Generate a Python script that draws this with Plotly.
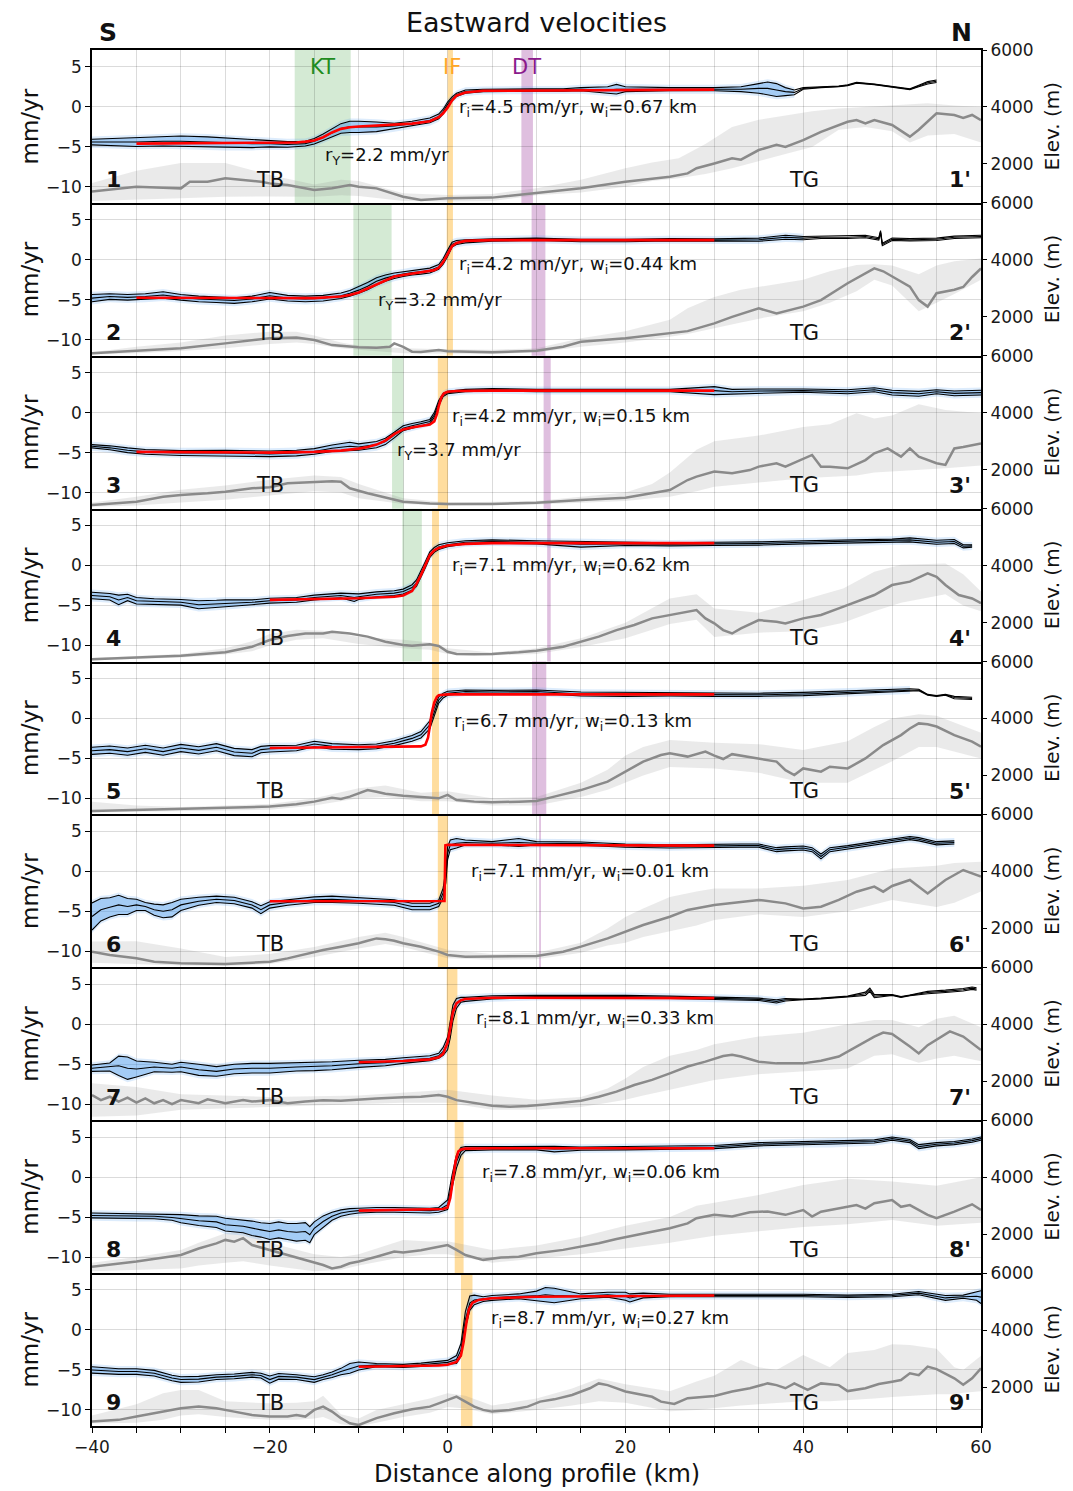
import plotly.graph_objects as go
from plotly.subplots import make_subplots

# ---------------- Panel 1 ----------------
P1_X = [-40,-37,-35,-32,-30,-27,-25,-22,-20,-18,-16,-15,-14,-13,-12,-11,-10,-8,-6,-4,-2,-1,-0.5,0,0.5,1,2,4,7,10,13,15,18,19,20,25,30,33,35,36,37,38,39,40,42,44,45,46,48,50,52,53,54,55]
P1_V = [-4.4,-4.4,-4.4,-4.3,-4.3,-4.4,-4.5,-4.6,-4.6,-4.7,-4.6,-4.3,-3.8,-3.2,-2.7,-2.5,-2.5,-2.5,-2.4,-2.1,-1.7,-1.2,-0.6,0.3,1.0,1.5,1.9,2.05,2.1,2.1,2.1,2.2,2.1,2.2,2.2,2.2,2.2,2.2,2.3,2.3,2.1,1.9,1.8,2.3,2.45,2.55,2.7,3.0,2.8,2.5,2.2,2.6,3.0,3.2]
P1_S = [0.35,0.45,0.55,0.6,0.65,0.65,0.6,0.5,0.4,0.35,0.3,0.35,0.4,0.5,0.6,0.7,0.7,0.6,0.35,0.3,0.3,0.3,0.3,0.3,0.25,0.2,0.2,0.15,0.15,0.15,0.15,0.2,0.4,0.6,0.3,0.2,0.2,0.3,0.6,0.8,0.8,0.5,0.3,0.1,0.05,0.05,0.05,0.05,0.05,0.05,0.05,0.1,0.15,0.15]
P1_RX = [-35,-20,-17,-16,-15,-14,-13,-12,-11,-10,-7,-4,-2,-1,-0.5,0,0.5,1,2,4,30]
P1_RV = [-4.6,-4.5,-4.45,-4.35,-4.2,-3.8,-3.2,-2.75,-2.55,-2.45,-2.3,-2.1,-1.8,-1.3,-0.8,-0.1,0.8,1.4,1.8,2.0,2.15]
P1_EX = [-40,-37,-35,-32,-30,-29,-27,-25,-23,-21,-20,-18,-15,-13,-11,-10,-8,-5,-3,0,5,10,15,20,25,27,28,30,32,33,35,37,38,40,42,45,46,47,48,50,52,53,55,57,58,59,60]
P1_EE = [1030,1145,1200,1170,1145,1380,1380,1500,1440,1380,1320,1260,1090,1150,1260,1200,1145,850,735,800,820,970,1145,1380,1555,1670,1850,2020,2200,2150,2490,2670,2600,2840,3130,3480,3540,3420,3540,3370,2960,3200,3780,3720,3620,3720,3540]
P1_BX = [-40,-35,-30,-25,-20,-15,-12,-10,-5,0,5,10,15,20,23,26,29,32,35,38,41,44,47,50,52,54,57,60]
P1_BL = [700,760,800,850,860,850,900,880,700,680,700,900,1000,1200,1400,1500,1650,1850,2100,2350,2600,3200,3300,3150,2750,3000,3050,2750]
P1_BH = [1330,1760,2035,2035,1610,1280,1450,1400,970,910,950,1150,1450,1850,2050,2200,2700,3300,3550,3700,3850,3950,4000,4050,4100,4130,4050,4000]

# ---------------- Panel 2 ----------------
P2_X = [-40,-38,-36,-34,-32,-30,-28,-26,-24,-22,-20,-18,-16,-14,-12,-11,-10,-9,-8,-7,-6,-5,-4,-3,-2,-1,-0.5,0,0.5,1,2,5,10,15,20,25,30,35,38,40,42,45,47,48.5,48.7,48.9,50,52,55,57,60]
P2_V = [-4.8,-4.6,-4.7,-4.6,-4.4,-4.7,-4.9,-5.0,-5.1,-4.9,-4.5,-4.8,-4.9,-4.8,-4.5,-4.2,-3.8,-3.3,-2.7,-2.3,-2.0,-1.8,-1.6,-1.5,-1.35,-0.9,-0.2,0.8,1.9,2.15,2.3,2.45,2.55,2.4,2.4,2.5,2.45,2.5,2.8,2.7,2.8,2.8,2.9,2.6,3.5,1.9,2.55,2.5,2.55,2.8,2.9]
P2_S = [0.45,0.35,0.35,0.35,0.4,0.35,0.35,0.35,0.35,0.35,0.4,0.35,0.35,0.35,0.35,0.35,0.4,0.45,0.45,0.4,0.35,0.3,0.3,0.3,0.3,0.3,0.35,0.4,0.3,0.25,0.2,0.15,0.15,0.15,0.15,0.15,0.15,0.2,0.25,0.2,0.15,0.15,0.15,0.15,0.15,0.15,0.15,0.15,0.15,0.15,0.15]
P2_RX = [-35,-20,-15,-12,-11,-10,-9,-8,-7,-6,-5,-4,-3,-2,-1.5,-1,-0.5,0,0.5,1,2,5,30]
P2_RV = [-4.75,-4.85,-4.8,-4.6,-4.4,-4.1,-3.6,-3.0,-2.5,-2.1,-1.9,-1.75,-1.6,-1.45,-1.3,-1.0,-0.3,0.7,1.7,2.1,2.35,2.45,2.45]
P2_EX = [-40,-35,-30,-25,-22,-20,-17,-15,-13,-10,-8,-6.5,-6,-5,-4,-3,-1,0,5,10,13,15,20,25,27,30,32,35,37,40,42,45,47,48,49,50,52,53,54,55,56,57,58,59,60]
P2_EE = [720,800,900,1070,1190,1250,1280,1190,1010,930,920,955,1070,950,780,770,840,790,760,810,955,1125,1250,1420,1500,1770,2000,2300,2120,2360,2590,3180,3530,3700,3600,3410,3060,2590,2360,2830,2900,2950,3050,3400,3700]
P2_BX = [-40,-35,-30,-25,-20,-17,-15,-12,-10,-5,0,5,10,15,20,25,27,30,33,36,40,43,46,48,50,53,55,57,60]
P2_BL = [680,720,800,900,1050,1100,1050,900,850,720,700,700,750,950,1100,1300,1400,1600,1800,2000,2200,2500,2900,3300,3100,2200,2500,2800,3300]
P2_BH = [760,950,1100,1350,1480,1480,1350,1100,1000,900,860,850,900,1250,1500,1900,2300,2700,2950,3100,3300,3600,3820,3850,3800,3500,3800,3950,4050]

# ---------------- Panel 3 ----------------
P3_X = [-40,-38,-36,-34,-30,-25,-20,-17,-15,-13,-11,-10,-8,-7,-6,-5,-4,-3,-2,-1.5,-1,-0.5,0,2,5,10,15,20,25,30,32,35,40,45,48,50,53,55,57,60]
P3_V = [-4.2,-4.4,-4.7,-4.9,-5.05,-5.05,-5.15,-5.05,-4.85,-4.45,-4.2,-4.3,-4.0,-3.6,-2.8,-1.95,-1.65,-1.4,-1.1,-0.3,1.2,2.2,2.5,2.75,2.85,2.75,2.75,2.75,2.75,2.75,2.6,2.7,2.75,2.6,2.85,2.5,2.35,2.6,2.4,2.5]
P3_S = [0.2,0.25,0.3,0.3,0.3,0.35,0.35,0.35,0.35,0.4,0.5,0.4,0.4,0.4,0.35,0.3,0.3,0.25,0.25,0.3,0.3,0.2,0.15,0.15,0.15,0.15,0.15,0.15,0.15,0.5,0.3,0.25,0.2,0.25,0.25,0.3,0.3,0.25,0.3,0.3]
P3_RX = [-35,-20,-15,-12,-10,-9,-8,-7,-6,-5,-4,-3,-2,-1.5,-1.2,-1,-0.7,-0.4,0,1,5,30]
P3_RV = [-4.9,-5.0,-4.9,-4.75,-4.5,-4.3,-4.0,-3.5,-2.7,-2.1,-1.85,-1.7,-1.5,-1.1,-0.2,0.8,1.9,2.4,2.6,2.7,2.75,2.75]
P3_EX = [-40,-35,-32,-30,-27,-25,-22,-20,-18,-16,-14,-13,-12,-11,-9,-7,-5,-2,0,5,10,15,20,25,27,28,30,32,34,35,37,38,40,41,42,43,45,47,48,49.5,51,52,53,55,56,57,58,60]
P3_EE = [763,880,1055,1115,1175,1230,1350,1385,1525,1550,1580,1600,1580,1350,1175,1020,880,820,800,800,845,940,1020,1290,1640,1760,1935,1880,1990,2110,2230,2110,2400,2520,2110,2110,2050,2340,2580,2750,2460,2750,2460,2230,2170,2750,2800,2920]
P3_BX = [-40,-35,-30,-25,-20,-15,-12,-10,-5,0,10,20,23,25,28,30,35,40,43,46,48,50,53,56,60]
P3_BL = [700,750,850,950,1100,1250,1200,1000,800,750,780,900,1000,1050,1250,1400,1550,1700,1750,1800,1900,1950,2000,2050,2150]
P3_BH = [850,1050,1300,1450,1650,1800,1750,1500,1000,850,900,1200,1500,1900,2700,3000,3200,3500,3600,3980,3800,3900,4300,4100,3980]

# ---------------- Panel 4 ----------------
P4_X = [-40,-38,-37,-36,-35,-33,-30,-28,-26,-25,-22,-20,-17,-15,-12,-10.5,-10,-8,-6,-5,-4,-3.5,-3,-2.5,-2,-1.5,-1,0,2,5,10,15,20,25,30,35,40,45,50,52,55,57,58,59]
P4_V = [-3.75,-3.9,-4.3,-4.0,-4.4,-4.5,-4.6,-4.9,-4.8,-4.7,-4.6,-4.4,-4.3,-4.0,-3.75,-4.0,-3.9,-3.6,-3.45,-3.25,-2.75,-2.2,-1.15,0.1,1.35,1.95,2.3,2.6,2.9,3.0,2.9,2.65,2.7,2.65,2.7,2.75,2.9,3.0,3.1,3.2,2.9,3.0,2.4,2.45]
P4_S = [0.4,0.4,0.6,0.4,0.4,0.35,0.35,0.5,0.45,0.4,0.3,0.3,0.3,0.3,0.3,0.5,0.35,0.3,0.3,0.3,0.35,0.4,0.4,0.4,0.35,0.3,0.3,0.25,0.2,0.2,0.2,0.35,0.2,0.2,0.2,0.2,0.2,0.2,0.2,0.25,0.25,0.25,0.2,0.15]
P4_RX = [-20,-10,-6,-5,-4,-3.5,-3,-2.5,-2,-1.5,-1,0,2,5,30]
P4_RV = [-4.3,-4.1,-3.9,-3.75,-3.2,-2.3,-1.2,0.1,1.3,1.9,2.2,2.5,2.7,2.8,2.8]
P4_EX = [-40,-35,-30,-25,-22,-20,-18,-16,-14,-13,-11,-9,-7,-5,-4,-2,-1,0,1,3,5,8,10,13,15,17,19,21,23,25,27,28,29,30,31,32,33,35,37,38,40,42,44,46,48,50,52,54,55,56,57.5,59,60]
P4_EE = [720,770,840,960,1155,1390,1530,1620,1620,1680,1620,1510,1330,1215,1190,1240,1180,980,900,890,900,960,1015,1155,1330,1510,1740,1920,2150,2270,2390,2445,2150,1975,1740,1620,1800,2090,2030,1970,2150,2270,2500,2740,2970,3320,3440,3730,3610,3320,2970,2850,2680]
P4_BX = [-40,-30,-25,-22,-20,-17,-14,-10,-5,-2,0,5,10,15,20,23,25,28,30,35,40,44.5,48,51,56,58,60]
P4_BL = [680,780,880,1000,1200,1400,1450,1250,1100,1050,900,850,900,1150,1450,1750,1950,2100,1500,1650,1700,2000,2400,2700,3000,2600,2400]
P4_BH = [760,900,1100,1350,1600,1750,1720,1500,1400,1300,1100,950,1100,1450,2000,2500,2850,3000,2500,2350,2800,3200,3790,4030,4080,3700,3090]

# ---------------- Panel 5 ----------------
P5_X = [-40,-38,-36,-34,-32,-30,-28,-26,-24,-22,-21,-20,-17,-15,-13,-10,-8,-6,-4,-3,-2,-1.5,-1,-0.5,0,2,5,10,15,20,25,30,35,40,45,50,52,53,54,55,56,57,59]
P5_V = [-4.05,-3.9,-4.15,-3.8,-4.15,-3.7,-4.0,-3.6,-4.2,-4.35,-3.9,-3.8,-3.7,-3.2,-3.5,-3.6,-3.5,-3.1,-2.5,-2.05,-0.8,0.85,2.3,2.85,3.15,3.35,3.3,3.35,3.05,3.0,3.0,2.95,2.95,3.05,3.25,3.5,3.55,3.55,2.95,2.8,2.95,2.6,2.5]
P5_S = [0.45,0.45,0.45,0.45,0.45,0.45,0.45,0.45,0.45,0.45,0.4,0.4,0.35,0.35,0.35,0.3,0.3,0.3,0.35,0.4,0.5,0.5,0.4,0.3,0.25,0.2,0.2,0.2,0.25,0.25,0.2,0.2,0.2,0.2,0.2,0.2,0.15,0.1,0.05,0.05,0.05,0.15,0.15]
P5_RX = [-20,-10,-5,-3,-2.5,-2.2,-2,-1.8,-1.5,-1.2,-1,0,30]
P5_RV = [-3.7,-3.6,-3.6,-3.5,-3.3,-2.4,-1.0,0.6,2.0,2.7,2.9,3.0,3.0]
P5_EX = [-40,-35,-30,-25,-20,-17,-15,-13,-12,-11,-10,-9,-8,-7,-5,-3,-1,0,1,3,5,8,10,12,15,18,20,22,24,25,27,29,30,31,32,35,37,38,39,40,42,43,45,47,49,51,52,53,54,55,57,59,60]
P5_EE = [756,790,825,850,910,990,1085,1220,1180,1260,1375,1490,1430,1360,1290,1235,1200,1320,1140,1085,1060,1085,1110,1260,1490,1785,2135,2490,2720,2780,2665,2840,2700,2580,2750,2600,2490,2190,2020,2250,2135,2310,2250,2600,3070,3420,3650,3830,3800,3720,3420,3190,3010]
P5_BX = [-40,-35,-30,-20,-15,-10,-7,-3,0,5,10,15,18,20,22,25,30,35,40,45,48,50,53,55,60]
P5_BL = [700,720,740,800,950,1200,1250,1100,1100,950,950,1250,1500,1750,2000,2300,2250,2100,1750,1750,2200,2500,3000,3000,2600]
P5_BH = [1080,950,900,1000,1200,1550,1650,1400,1450,1200,1250,1750,2200,2700,3000,3250,3150,3100,2900,3200,3700,4000,4150,4100,3500]

# ---------------- Panel 6 ----------------
P6_X = [-40,-39,-38,-37,-36,-35,-34,-33,-32,-31,-30,-28,-26,-24,-22,-21,-20,-18,-15,-13,-10,-8,-6,-4,-2,-1,-0.5,-0.2,0,0.3,1,2,5,8,10,15,20,25,30,33,35,37,38,40,41,42,43,45,48,50,52,53,55,57]
P6_V = [-5.65,-4.8,-4.5,-4.2,-4.4,-4.2,-4.4,-4.8,-5.0,-4.8,-4.2,-3.75,-3.5,-3.65,-4.2,-4.8,-4.2,-3.9,-3.55,-3.5,-3.65,-3.75,-3.9,-4.4,-4.4,-4.0,-2.7,-0.65,2.25,3.3,3.5,3.6,3.5,3.6,3.5,3.45,3.2,3.1,3.2,3.2,3.2,2.7,2.8,2.9,2.7,1.85,2.7,3.0,3.5,3.85,4.15,4.0,3.5,3.6]
P6_S = [1.7,1.4,1.2,1.2,1.0,0.7,0.5,0.7,0.8,0.9,0.7,0.5,0.4,0.4,0.4,0.5,0.4,0.35,0.35,0.4,0.35,0.35,0.35,0.4,0.4,0.4,0.6,0.8,0.8,0.6,0.6,0.3,0.2,0.5,0.2,0.2,0.2,0.2,0.2,0.2,0.2,0.25,0.25,0.25,0.25,0.3,0.25,0.2,0.2,0.2,0.2,0.2,0.2,0.2]
P6_RX = [-20,-0.35,-0.25,0,30]
P6_RV = [-3.75,-3.72,3.25,3.3,3.2]
P6_EX = [-40,-38,-35,-33,-30,-27,-25,-22,-20,-18,-16,-14,-12,-10,-9,-8,-7,-6,-5,-3,-1,0,2,5,10,13,15,18,20,22,25,27,30,33,35,38,40,42,44,46,48,49,50,52,54,56,58,60]
P6_EE = [1185,1070,950,835,775,760,750,800,835,950,1100,1245,1360,1480,1570,1650,1620,1570,1480,1360,1185,1070,1010,1010,1030,1185,1360,1650,1890,2120,2410,2650,2820,2940,3000,2880,2700,2760,3000,3290,3470,3290,3490,3700,3230,3700,4050,3820]
P6_BX = [-40,-35,-30,-25,-20,-15,-10,-7,-5,0,5,10,15,18,20,22,25,28,30,35,40,45,50,55,57,60]
P6_BL = [800,750,700,680,750,1000,1300,1450,1350,950,900,920,1150,1400,1500,1700,1900,2100,2300,2500,2400,2600,3000,2750,2900,3300]
P6_BH = [1540,1550,1300,1000,1100,1350,1700,1850,1700,1250,1100,1150,1500,2000,2400,2700,3100,3300,3400,3400,3500,3700,4100,4200,4300,4340]

# ---------------- Panel 7 ----------------
P7_X = [-40,-38,-37,-36,-35,-33,-31,-30,-28,-26,-24,-22,-20,-17,-15,-13,-10,-7,-5,-3,-2,-1,-0.5,0,0.3,0.6,1,1.5,2,5,10,15,20,25,30,35,37,38,40,42,45,47,47.5,48,50,51,52,54,56,58,59,59.5]
P7_V = [-5.5,-5.35,-5.2,-5.5,-5.6,-5.35,-5.5,-5.35,-5.7,-5.9,-5.6,-5.5,-5.5,-5.35,-5.3,-5.2,-4.95,-4.8,-4.55,-4.35,-4.25,-3.95,-3.4,-2.4,-0.7,1.4,2.6,3.05,3.1,3.35,3.45,3.45,3.45,3.35,3.25,3.1,2.85,3.05,3.1,3.2,3.45,3.8,4.3,3.5,3.65,3.4,3.6,3.95,4.1,4.3,4.5,4.4]
P7_S = [0.4,0.5,1.2,1.4,1.0,0.6,0.5,0.6,0.7,0.6,0.6,0.6,0.6,0.5,0.5,0.5,0.45,0.4,0.35,0.3,0.3,0.3,0.5,0.8,1.0,1.0,0.6,0.3,0.25,0.2,0.15,0.15,0.15,0.15,0.15,0.15,0.2,0.15,0.05,0.05,0.05,0.2,0.2,0.2,0.05,0.05,0.05,0.15,0.15,0.15,0.15,0.15]
P7_RX = [-10,-5,-2,-1,-0.5,0,0.3,0.6,1,1.5,2,5,30]
P7_RV = [-4.75,-4.6,-4.4,-4.15,-3.7,-2.3,-0.5,1.5,2.6,3.0,3.15,3.3,3.25]
P7_EX = [-40,-39,-38,-37,-36,-35,-34,-33,-32,-31,-30,-28,-27,-25,-23,-22,-20,-18,-16,-14,-12,-10,-8,-5,-3,-1,0,1,3,5,7,9,11,13,15,17,19,21,23,25,27,29,30,31,32,33,35,37,40,42,44,46,48,49,50,52,53,54,55.5,56.5,58,60]
P7_EE = [1520,1340,1460,1290,1430,1250,1400,1230,1340,1200,1340,1230,1370,1230,1340,1290,1340,1230,1290,1340,1320,1370,1400,1440,1460,1520,1460,1340,1230,1140,1110,1130,1190,1250,1320,1460,1640,1870,2050,2280,2520,2690,2800,2890,2930,2870,2690,2630,2630,2720,2870,3220,3570,3710,3660,3220,2980,3270,3570,3750,3570,3100]
P7_BX = [-40,-35,-30,-20,-10,-5,0,5,10,15,18,20,22,25,28,30,35,40,45,48,50,53,55,57,60]
P7_BL = [760,800,1000,1100,1200,1250,1250,1000,1000,1100,1250,1350,1500,1700,1900,2050,2250,2350,2450,2900,2950,2650,2800,2900,2700]
P7_BH = [1930,1800,1550,1450,1500,1600,1700,1500,1350,1450,1750,2100,2500,2900,3100,3300,3570,3700,4000,4150,4150,3900,4200,4300,3900]

# ---------------- Panel 8 ----------------
P8_X = [-40,-35,-33,-31,-30,-28,-26,-25,-23,-22,-21,-20,-19,-18,-17,-16,-15.5,-15,-14,-13,-12,-11,-10,-8,-6,-4,-2,-1,0,0.5,1,1.5,2,5,10,12,15,20,25,30,35,40,43,45,48,50,52,53,55,57,59,60]
P8_V = [-4.8,-4.9,-4.9,-5.05,-5.2,-5.45,-5.6,-5.95,-6.15,-6.4,-6.6,-6.8,-6.6,-6.8,-6.9,-6.8,-7.2,-6.4,-5.55,-4.9,-4.5,-4.3,-4.2,-4.1,-4.1,-4.15,-4.2,-4.1,-3.45,-0.55,1.95,3.2,3.55,3.6,3.6,3.5,3.55,3.6,3.7,3.75,4.1,4.25,4.25,4.35,4.45,4.8,4.5,3.8,4.1,4.25,4.55,4.8]
P8_S = [0.3,0.3,0.3,0.35,0.5,0.6,0.7,0.8,0.8,0.9,0.9,1.0,1.0,1.0,1.1,1.1,1.0,0.8,0.7,0.5,0.4,0.35,0.3,0.3,0.3,0.3,0.3,0.3,0.6,0.8,0.8,0.5,0.25,0.2,0.2,0.35,0.2,0.2,0.2,0.2,0.2,0.2,0.2,0.2,0.2,0.2,0.2,0.25,0.2,0.2,0.2,0.2]
P8_RX = [-10,-2,-0.5,0,0.3,0.6,0.9,1.2,1.5,2,5,30]
P8_RV = [-4.2,-4.1,-4.0,-3.8,-2.6,-0.3,2.0,3.2,3.45,3.55,3.6,3.6]
P8_EX = [-40,-35,-30,-28,-26,-25,-24,-23,-22,-20,-18,-16,-14,-13,-12,-11,-10,-8,-6,-5,-3,-1,0,1,2,4,6,8,10,13,15,17,19,21,23,25,27,28,30,32,34,36,38,40,41,42,44,46,47,48,50,51,52,54,55,57,59,60]
P8_EE = [860,1040,1270,1500,1680,1800,1740,1860,1620,1450,1270,1100,920,800,860,980,1040,1210,1390,1360,1440,1560,1620,1450,1270,1100,1180,1210,1330,1450,1560,1680,1830,1970,2090,2210,2380,2560,2680,2620,2770,2800,2680,2850,2620,2790,2910,3020,2900,3090,3200,2960,3020,2680,2560,2790,3050,2850]
P8_BX = [-40,-35,-30,-28,-25,-23,-20,-15,-12,-10,-5,-2,0,5,10,15,20,25,28,30,35,40,45,50,55,60]
P8_BL = [700,750,800,900,1000,1050,900,700,750,900,1200,1300,1300,1000,1150,1300,1500,1700,1850,1950,2100,2250,2350,2500,2300,2400]
P8_BH = [1000,1200,1450,1700,2030,2100,1700,1300,1200,1300,1800,1740,1750,1450,1600,1900,2300,2600,3000,3100,3380,3730,3950,3850,3700,4000]

# ---------------- Panel 9 ----------------
P9_X = [-40,-37,-35,-33,-31,-30,-28,-26,-24,-22,-21,-20,-19,-17,-15,-14,-13,-12,-11,-10,-8,-5,-3,-1,0,1,1.5,2,2.5,3,4,5,8,10,11,12,15,18,20,20.5,22,25,30,35,40,45,50,53,55,56,58,59.5,60]
P9_V = [-5.0,-5.2,-5.2,-5.4,-6.0,-6.2,-6.15,-5.9,-5.8,-5.6,-5.7,-6.2,-5.8,-5.9,-6.2,-5.9,-5.6,-5.2,-4.8,-4.5,-4.4,-4.5,-4.35,-4.15,-4.05,-3.7,-2.5,1.3,3.35,3.75,3.85,4.0,4.2,4.25,4.4,4.3,4.2,4.4,4.2,4.0,4.3,4.3,4.3,4.3,4.3,4.2,4.3,4.6,4.2,4.0,4.15,4.2,4.1]
P9_S = [0.4,0.35,0.35,0.35,0.35,0.35,0.35,0.3,0.3,0.3,0.3,0.45,0.35,0.3,0.35,0.3,0.35,0.4,0.6,0.5,0.2,0.2,0.2,0.2,0.25,0.5,0.8,1.0,0.9,0.6,0.3,0.3,0.3,0.6,0.9,0.9,0.3,0.3,0.5,0.5,0.3,0.15,0.15,0.15,0.15,0.15,0.15,0.2,0.25,0.3,0.2,0.5,0.8]
P9_RX = [-10,-5,-1,0,1,1.5,1.8,2.1,2.4,2.8,3.5,5,10,30]
P9_RV = [-4.6,-4.55,-4.45,-4.35,-4.0,-3.2,-1.5,0.8,2.6,3.4,3.75,3.95,4.15,4.3]
P9_EX = [-40,-37,-35,-32,-30,-28,-26,-24,-22,-20,-18,-17,-16,-15,-14,-13,-12,-11,-10,-8,-6,-4,-2,-1,0,1,2,3,4,5,7,9,10.4,12,14,16,17,18,20,22,23,24,25.5,27,29,30,32,34,36,37,38,39,40.5,42,44,45,47,48.5,50,51,52,53,54,55,57,58,59,60]
P9_EE = [790,850,965,1140,1255,1315,1255,1140,1020,965,965,1020,965,1200,1315,1140,910,730,670,910,1080,1220,1315,1430,1550,1665,1490,1315,1200,1140,1200,1315,1490,1570,1725,1960,2130,2070,1845,1725,1660,1490,1410,1610,1665,1690,1845,1960,2130,2070,1960,2130,1900,2130,2070,1860,1960,2110,2190,2250,2485,2420,2720,2630,2310,2080,2310,2660]
P9_BX = [-40,-35,-32,-30,-28,-25,-20,-17,-15,-14,-12,-10,-8,-5,-2,0,2,5,10,14,17,20,25,28,30,33,35,37,40,43,45,48,50,52,55,57,58,60]
P9_BL = [720,750,850,1000,1050,950,850,850,900,950,700,620,750,950,1100,1300,1250,1050,1200,1350,1500,1450,1150,1200,1250,1350,1400,1450,1500,1500,1550,1600,1650,1700,1750,1750,1800,1850]
P9_BH = [1000,1400,1780,1900,1900,1500,1430,1450,1500,1700,1050,900,1200,1400,1600,1780,1700,1350,1600,1950,2300,2100,1850,2200,2400,2950,2700,2600,3130,2700,3200,3300,3500,3480,3350,2700,2600,3100]

# fault zones per panel: (x0, x1) in km, None if absent
KT_ZONES = [(-17.2, -10.9), (-10.6, -6.3), (-6.25, -4.95), (-5.1, -2.9), None, None, None, None, None]
IF_ZONES = [(0.0, 0.6), (-0.1, 0.6), (-1.1, 0.05), (-1.75, -0.97), (-1.75, -0.97), (-1.1, 0.05), (-0.1, 1.1), (0.8, 1.8), (1.5, 2.8)]
DT_ZONES = [(8.3, 9.6), (9.45, 11.0), (10.8, 11.6), (11.2, 11.6), (9.5, 11.1), (10.3, 10.5), None, None, None]
BLUE_MAX = [39, 41, 60, 60, 52.5, 60, 38.5, 60, 60]

RI_TEXT = ["4.5", "4.2", "4.2", "7.1", "6.7", "7.1", "8.1", "7.8", "8.7"]
WI_TEXT = ["0.67", "0.44", "0.15", "0.62", "0.13", "0.01", "0.33", "0.06", "0.27"]
RI_POS = [(1.06, -0.2), (1.06, -0.6), (0.27, -0.5), (0.27, -0.1), (0.5, -0.5), (2.4, -0.15), (3.0, 0.7), (3.65, 0.55), (4.66, 1.4)]
RY_TEXT = ["2.2", "3.2", "3.7"]
RY_POS = [(-14.0, -6.1), (-8.05, -5.1), (-5.9, -4.75)]

PANELS = [
    (P1_X, P1_V, P1_S, P1_RX, P1_RV, P1_EX, P1_EE, P1_BX, P1_BL, P1_BH),
    (P2_X, P2_V, P2_S, P2_RX, P2_RV, P2_EX, P2_EE, P2_BX, P2_BL, P2_BH),
    (P3_X, P3_V, P3_S, P3_RX, P3_RV, P3_EX, P3_EE, P3_BX, P3_BL, P3_BH),
    (P4_X, P4_V, P4_S, P4_RX, P4_RV, P4_EX, P4_EE, P4_BX, P4_BL, P4_BH),
    (P5_X, P5_V, P5_S, P5_RX, P5_RV, P5_EX, P5_EE, P5_BX, P5_BL, P5_BH),
    (P6_X, P6_V, P6_S, P6_RX, P6_RV, P6_EX, P6_EE, P6_BX, P6_BL, P6_BH),
    (P7_X, P7_V, P7_S, P7_RX, P7_RV, P7_EX, P7_EE, P7_BX, P7_BL, P7_BH),
    (P8_X, P8_V, P8_S, P8_RX, P8_RV, P8_EX, P8_EE, P8_BX, P8_BL, P8_BH),
    (P9_X, P9_V, P9_S, P9_RX, P9_RV, P9_EX, P9_EE, P9_BX, P9_BL, P9_BH),
]

for i, p in enumerate(PANELS):
    x, v, s, rx, rv, ex, ee, bx, bl, bh = p
    assert len(x) == len(v) == len(s), (i, len(x), len(v), len(s))
    assert len(rx) == len(rv), (i, 'red')
    assert len(ex) == len(ee), (i, 'elev', len(ex), len(ee))
    assert len(bx) == len(bl) == len(bh), (i, 'band')

FONT = "DejaVu Sans"
NP = 9
fig = make_subplots(rows=NP, cols=1, shared_xaxes=True, vertical_spacing=0,
                    specs=[[{"secondary_y": True}] for _ in range(NP)])

shapes = []
for i, p in enumerate(PANELS):
    r = i + 1
    x, v, s, rx, rv, ex, ee, bx, bl, bh = p
    # elevation band + median (base axis, right side)
    fig.add_trace(go.Scatter(x=bx + bx[::-1], y=bh + bl[::-1], fill='toself',
                             fillcolor='rgba(128,128,128,0.17)', mode='lines',
                             line=dict(width=0), hoverinfo='skip', showlegend=False),
                  row=r, col=1, secondary_y=False)
    fig.add_trace(go.Scatter(x=ex, y=ee, mode='lines', line=dict(color='#8a8a8a', width=2.5),
                             hoverinfo='skip', showlegend=False),
                  row=r, col=1, secondary_y=False)
    # blue data cloud (limited to data coverage)
    idx = [k for k in range(len(x)) if x[k] <= BLUE_MAX[i]]
    xb = [x[k] for k in idx]
    up_o = [v[k] + s[k] + 0.35 for k in idx]
    lo_o = [v[k] - s[k] - 0.35 for k in idx]
    up_i = [v[k] + s[k] for k in idx]
    lo_i = [v[k] - s[k] for k in idx]
    fig.add_trace(go.Scatter(x=xb + xb[::-1], y=up_o + lo_o[::-1], fill='toself',
                             fillcolor='rgba(100,170,240,0.22)', mode='lines', line=dict(width=0),
                             hoverinfo='skip', showlegend=False),
                  row=r, col=1, secondary_y=True)
    fig.add_trace(go.Scatter(x=xb + xb[::-1], y=up_i + lo_i[::-1], fill='toself',
                             fillcolor='rgba(50,140,230,0.33)', mode='lines', line=dict(width=0),
                             hoverinfo='skip', showlegend=False),
                  row=r, col=1, secondary_y=True)
    # black median and +/- sigma
    for yy in ([a + b for a, b in zip(v, s)], [a - b for a, b in zip(v, s)], v):
        fig.add_trace(go.Scatter(x=x, y=yy, mode='lines', line=dict(color='black', width=1.1),
                                 hoverinfo='skip', showlegend=False),
                      row=r, col=1, secondary_y=True)
    # red model
    fig.add_trace(go.Scatter(x=rx, y=rv, mode='lines', line=dict(color='#ff0000', width=2.6),
                             hoverinfo='skip', showlegend=False),
                  row=r, col=1, secondary_y=True)
    # fault zones: x in data units, y spanning this panel's paper band
    y0 = 1 - r / NP
    y1 = 1 - (r - 1) / NP
    for zone, col in ((KT_ZONES[i], 'rgba(0,128,0,0.17)'),
                      (IF_ZONES[i], 'rgba(255,165,0,0.38)'),
                      (DT_ZONES[i], 'rgba(128,0,128,0.25)')):
        if zone is not None:
            shapes.append(dict(type='rect', xref='x', yref='paper', x0=zone[0], x1=zone[1],
                               y0=y0, y1=y1, fillcolor=col, line=dict(width=0), layer='below'))

GRID = 'rgba(0,0,0,0.14)'
TICKF = dict(family=FONT, size=17, color='#1a1a1a')
for r in range(1, NP + 1):
    xa = 'xaxis' if r == 1 else f'xaxis{r}'
    pa = 'yaxis' if r == 1 else f'yaxis{2 * r - 1}'
    sa = f'yaxis{2 * r}'
    last = (r == NP)
    fig.layout[xa].update(domain=[0, 1], range=[-40, 60], showline=True, linecolor='black',
                          linewidth=1.6, mirror=(r == 1), showgrid=True, gridcolor=GRID,
                          gridwidth=1, zeroline=False, tickmode='linear', tick0=0, dtick=20,
                          showticklabels=last, ticks='outside' if last else '',
                          ticklen=5, tickcolor='black', tickfont=TICKF, automargin=False,
                          minor=dict(tickmode='linear', tick0=0, dtick=5, showgrid=True,
                                     gridcolor=GRID, gridwidth=1,
                                     ticks='outside' if last else '', ticklen=5,
                                     tickcolor='black'))
    fig.layout[pa].update(side='right', range=[635, 6000], tickmode='array',
                          tickvals=[2000, 4000, 6000], ticktext=['2000', '4000', '6000'],
                          ticks='outside', ticklen=5, tickcolor='black', showgrid=False,
                          zeroline=False, showline=False, tickfont=TICKF, automargin=False)
    fig.layout[sa].update(side='left', range=[-12, 7.1], tickmode='linear', tick0=0, dtick=5,
                          ticks='outside', ticklen=5, tickcolor='black', showgrid=True,
                          gridcolor=GRID, gridwidth=1, zeroline=False, showline=True,
                          linecolor='black', linewidth=1.5, mirror=True, tickfont=TICKF,
                          automargin=False)

ann = []
def add(text, x, y, xref, yref, size, color='#111', bold=False, xanchor='center',
        yanchor='middle', angle=0):
    if bold:
        text = f'<b>{text}</b>'
    ann.append(dict(text=text, x=x, y=y, xref=xref, yref=yref, showarrow=False,
                    font=dict(family=FONT, size=size, color=color), xanchor=xanchor,
                    yanchor=yanchor, textangle=angle))

for i in range(NP):
    r = i + 1
    xr = 'x' if r == 1 else f'x{r}'
    yr = f'y{2 * r}'
    add(str(r), -37.6, -9.1, xr, yr, 22, bold=True)
    add(f"{r}'", 57.6, -9.1, xr, yr, 22, bold=True)
    add('TB', -20.0, -9.1, xr, yr, 21)
    add('TG', 40.1, -9.1, xr, yr, 21)
    add(f'r<sub>i</sub>={RI_TEXT[i]} mm/yr, w<sub>i</sub>={WI_TEXT[i]} km',
        RI_POS[i][0], RI_POS[i][1], xr, yr, 18, xanchor='left')
    if i < len(RY_TEXT):
        add(f'r<sub>Y</sub>={RY_TEXT[i]} mm/yr', RY_POS[i][0], RY_POS[i][1], xr, yr, 18,
            xanchor='left')
    yc = 1 - (r - 0.5) / NP
    add('mm/yr', -0.0697, yc, 'paper', 'paper', 23, angle=-90)
    add('Elev. (m)', 1.0799, yc, 'paper', 'paper', 20, angle=-90)

add('KT', -14.1, 5.0, 'x', 'y2', 21, color='#1e8c1e')
add('IF', 0.5, 5.0, 'x', 'y2', 21, color='#ffa726')
add('DT', 8.9, 5.0, 'x', 'y2', 21, color='#8b1a8b')
add('Eastward velocities', 0.5, 1.0203, 'paper', 'paper', 27)
add('S', 0.018, 1.0124, 'paper', 'paper', 25, bold=True)
add('N', 0.9786, 1.0124, 'paper', 'paper', 25, bold=True)
add('Distance along profile (km)', 0.5, -0.0349, 'paper', 'paper', 24)

# page body has an 8px default margin: shift margins so the plot area lands at 92..981 / 50..1426
# transparent plot background so the 'below' fault-zone shapes show in every panel
fig.update_layout(width=1073, height=1491, margin=dict(l=84, r=100, t=42, b=73),
                  paper_bgcolor='white', plot_bgcolor='rgba(0,0,0,0)', showlegend=False,
                  annotations=ann, shapes=shapes, font=dict(family=FONT, color='#1a1a1a'))

fig.write_html("out.html")
